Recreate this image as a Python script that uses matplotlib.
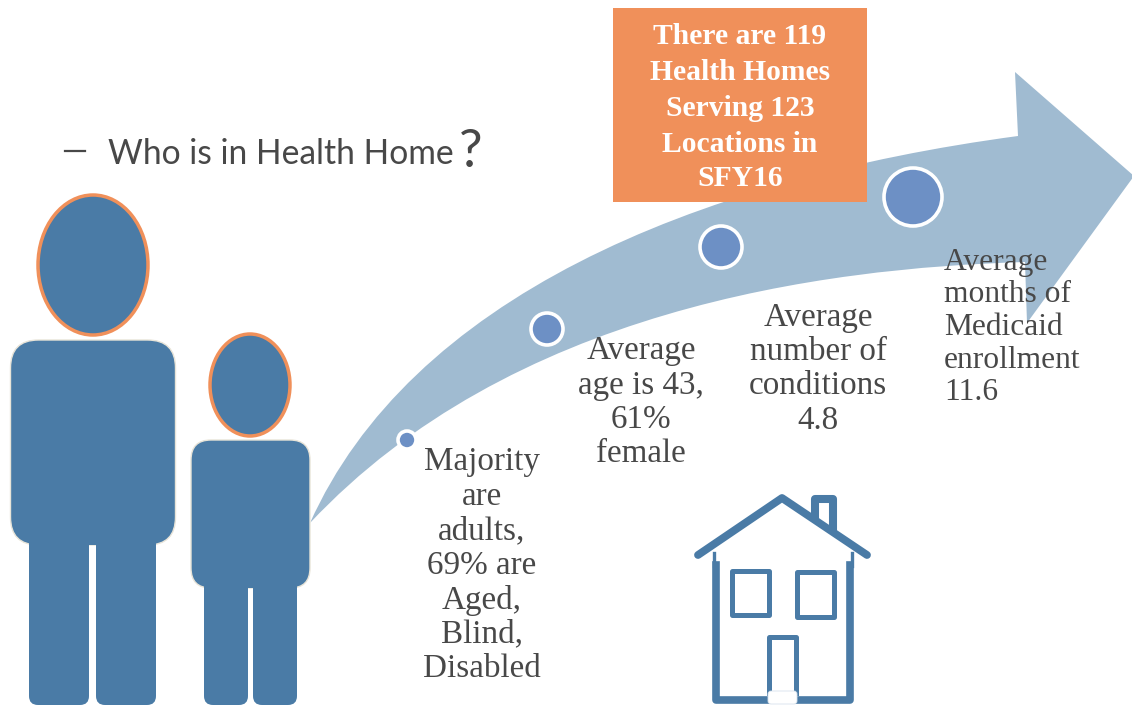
import matplotlib
matplotlib.use('Agg')
import matplotlib.pyplot as plt
from matplotlib.patches import Ellipse, FancyBboxPatch, PathPatch, Rectangle
from matplotlib.path import Path

BLUE = '#4A7BA6'
ORANGE = '#F0905A'
ARROW = '#A0BBD1'
DOT = '#6D90C5'
GREY = '#484848'

title = 'Who is in Health Home'
box_lines = ['There are 119', 'Health Homes', 'Serving 123', 'Locations in', 'SFY16']
box_y = [34, 69, 105, 141, 176]

# the four steps along the arrow
step_x = [407, 547, 721, 913]
step_y = [440, 329, 247, 197]
step_r = [9, 16, 21, 29]

text1 = ['Majority', 'are', 'adults,', '69% are', 'Aged,', 'Blind,', 'Disabled']
text2 = ['Average', 'age is 43,', '61%', 'female']
text3 = ['Average', 'number of', 'conditions', '4.8']
text4 = ['Average', 'months of', 'Medicaid', 'enrollment', '11.6']

fig = plt.figure(figsize=(11.32, 7.07), dpi=100)
ax = fig.add_axes([0, 0, 1, 1])
ax.set_xlim(0, 1132)
ax.set_ylim(707, 0)
ax.axis('off')


def rounded(x0, y0, x1, y1, r, edge='#E8E4D8', z=2):
    ax.add_patch(FancyBboxPatch((x0 + r, y0 + r), x1 - x0 - 2 * r, y1 - y0 - 2 * r,
                                boxstyle='round,pad=%s,rounding_size=%s' % (r, r),
                                fc=BLUE, ec=edge, lw=1, zorder=z))


def person(cx, head_y, rx, ry, body, body_r, legs, leg_bottom, leg_top):
    rounded(body[0], body[1], body[2], body[3], body_r)
    for l in legs:
        rounded(l[0], leg_top, l[1], leg_bottom, 9, edge='none', z=2)
    # covers the seam between the legs and the body
    ax.add_patch(Rectangle((legs[0][0], body[3] - 25), legs[1][1] - legs[0][0], 25, fc=BLUE, ec='none', zorder=3))
    ax.add_patch(Ellipse((cx, head_y), rx * 2, ry * 2, fc=BLUE, ec=ORANGE, lw=2.5, zorder=3))


def lines(txt, x, ys, size, ha='center', **kw):
    for t, y in zip(txt, ys):
        ax.text(x, y, t, ha=ha, va='center_baseline', fontsize=size, family='Liberation Serif',
                color=kw.get('color', GREY), fontweight=kw.get('weight', 'normal'), zorder=10)


# big arrow
verts = [(310, 523), (410, 300), (690, 180), (1018, 136), (1015, 72), (1134, 176), (1027, 323), (1025, 262),
         (820, 268), (510, 310), (310, 523)]
codes = [Path.MOVETO, Path.CURVE4, Path.CURVE4, Path.CURVE4, Path.LINETO, Path.LINETO, Path.LINETO, Path.LINETO,
         Path.CURVE4, Path.CURVE4, Path.CURVE4]
ax.add_patch(PathPatch(Path(verts, codes), fc=ARROW, ec='none', zorder=1))

for x, y, r in zip(step_x, step_y, step_r):
    ax.add_patch(Ellipse((x, y), r * 2, r * 2, fc=DOT, ec='white', lw=2.6, zorder=4))

# orange box
ax.add_patch(Rectangle((613, 8), 254, 194, fc=ORANGE, ec='none', zorder=5))
lines(box_lines, 740, box_y, 21.3, color='white', weight='bold')

# people
person(93, 265, 55, 70, (10.5, 340, 175.5, 545), 28, [(29, 89), (96, 156)], 705, 520)
person(250, 385, 40, 51, (191, 440, 310, 588), 20, [(204, 248), (253, 297)], 705, 565)

# heading
ax.plot([65, 85], [151, 151], color=GREY, lw=1.6, zorder=10)
ax.text(108, 151, title, ha='left', va='center_baseline', fontsize=24.2, family='Lato', color=GREY)
ax.text(459, 148, '?', ha='left', va='center_baseline', fontsize=38, family='Lato', color=GREY)

lines(text1, 482, [458, 493, 528, 562, 597, 631, 665], 23.9)
lines(text2, 641, [347, 382, 416, 450], 23.9)
lines(text3, 818, [314, 348, 382, 417], 23.9)
lines(text4, 944, [259, 291, 324, 357, 389], 22.7, ha='left')

# house
ax.plot([815, 815, 833, 833], [517, 499, 499, 528], color=BLUE, lw=5.8, solid_joinstyle='round', zorder=2)
ax.plot([698, 782, 867], [555, 498, 555], color=BLUE, lw=5.6, solid_capstyle='round', solid_joinstyle='round', zorder=3)
ax.plot([715.5, 715.5, 849.5, 849.5], [565, 700, 700, 565], color=BLUE, lw=5.5, solid_joinstyle='round', zorder=2)
# thin bit of wall just under the eaves
ax.plot([713.5, 713.5], [553, 566], color=BLUE, lw=2.4, zorder=2)
ax.plot([851.5, 851.5], [553, 566], color=BLUE, lw=2.4, zorder=2)
ax.add_patch(Rectangle((732, 571), 37, 44, fc='none', ec=BLUE, lw=3.6, joinstyle='round', zorder=2))
ax.add_patch(Rectangle((797, 572), 37, 45, fc='none', ec=BLUE, lw=3.6, joinstyle='round', zorder=2))
ax.plot([769, 769, 796, 796], [693, 637, 637, 693], color=BLUE, lw=3.6, solid_joinstyle='round', zorder=2)
ax.add_patch(FancyBboxPatch((771, 694), 23, 7, boxstyle='round,pad=3,rounding_size=3', fc='white', ec='#D8E2EC', lw=0.6, zorder=4))

fig.savefig('out.png', dpi=100)
